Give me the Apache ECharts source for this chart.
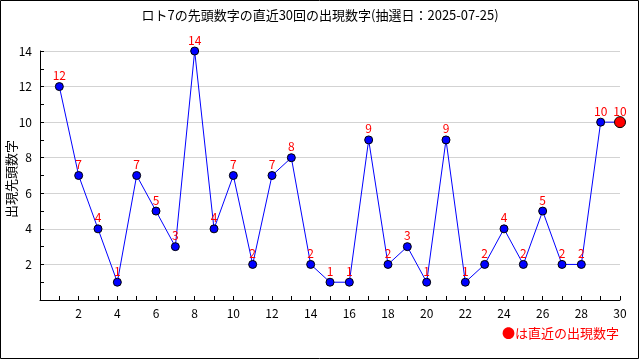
<!DOCTYPE html>
<html><head><meta charset="utf-8">
<script src="https://cdn.jsdelivr.net/npm/echarts@6/dist/echarts.min.js"></script>
<style>html,body{margin:0;padding:0;background:#fff}#c{width:640px;height:360px}</style>
</head><body><div id="c"></div>
<script>
const draws = [1,2,3,4,5,6,7,8,9,10,11,12,13,14,15,16,17,18,19,20,21,22,23,24,25,26,27,28,29,30];
const values = [12,7,4,1,7,5,3,14,4,7,2,7,8,2,1,1,9,2,3,1,9,1,2,4,2,5,2,2,10,10];
const titleText = 'ロト7の先頭数字の直近30回の出現数字(抽選日：2025-07-25)';
const yName = '出現先頭数字';
const legendText = '●は直近の出現数字';

const font = '"Noto Sans CJK JP", sans-serif';
const data = draws.map((d, i) => {
  const last = i === draws.length - 1;
  return {
    value: [d, values[i]],
    symbolSize: last ? 11 : 8,
    itemStyle: { color: last ? '#ff0000' : '#0000ff', borderColor: '#000', borderWidth: 1 }
  };
});

const chart = echarts.init(document.getElementById('c'), null, { renderer: 'canvas' });
chart.setOption({
  animation: false,
  backgroundColor: '#fff',
  title: {
    text: titleText, left: 'center', top: 4,
    textStyle: { fontFamily: font, fontSize: 13, fontWeight: 'normal', color: '#000' }
  },
  grid: { left: 40, right: 20, top: 51, bottom: 60, containLabel: false, outerBoundsMode: 'none' },
  xAxis: {
    type: 'value', min: 0, max: 30, interval: 2,
    axisLine: { show: true, lineStyle: { color: '#000', width: 1 } },
    axisTick: { show: true, inside: true, length: 4, lineStyle: { color: '#000' } },
    minorTick: { show: true, splitNumber: 2, length: 4, lineStyle: { color: '#000' } },
    splitLine: { show: false },
    axisLabel: {
      color: '#000', fontFamily: font, fontSize: 12, margin: 7,
      formatter: v => v === 0 ? '' : String(v)
    }
  },
  yAxis: {
    type: 'value', min: 0, max: 14, interval: 2,
    axisLine: { show: true, lineStyle: { color: '#000', width: 1 } },
    axisTick: { show: true, inside: true, length: 4, lineStyle: { color: '#000' } },
    minorTick: { show: true, splitNumber: 2, length: 4, lineStyle: { color: '#000' } },
    splitLine: { show: true, lineStyle: { color: '#d3d3d3', width: 1 } },
    axisLabel: {
      color: '#000', fontFamily: font, fontSize: 12, margin: 8,
      formatter: v => v === 0 ? '' : String(v)
    }
  },
  series: [{
    type: 'line',
    data: data,
    symbol: 'circle',
    lineStyle: { color: '#0000ff', width: 1 },
    label: {
      show: true, position: 'inside', offset: [0, -11],
      color: '#ff0000', fontFamily: font, fontSize: 12,
      formatter: p => String(p.value[1])
    },
    z: 3
  }],
  graphic: [
    { type: 'rect', shape: { x: 0.5, y: 0.5, width: 638, height: 358 },
      style: { fill: 'none', stroke: '#000', lineWidth: 1 }, silent: true },
    { type: 'text', x: 11, y: 179, rotation: Math.PI / 2,
      style: { text: yName, fill: '#000', font: '13px ' + font, align: 'center', verticalAlign: 'middle' } },
    { type: 'text', right: 21, top: 327,
      style: { text: legendText, fill: '#ff0000', font: '13px ' + font } }
  ]
});
</script></body></html>
